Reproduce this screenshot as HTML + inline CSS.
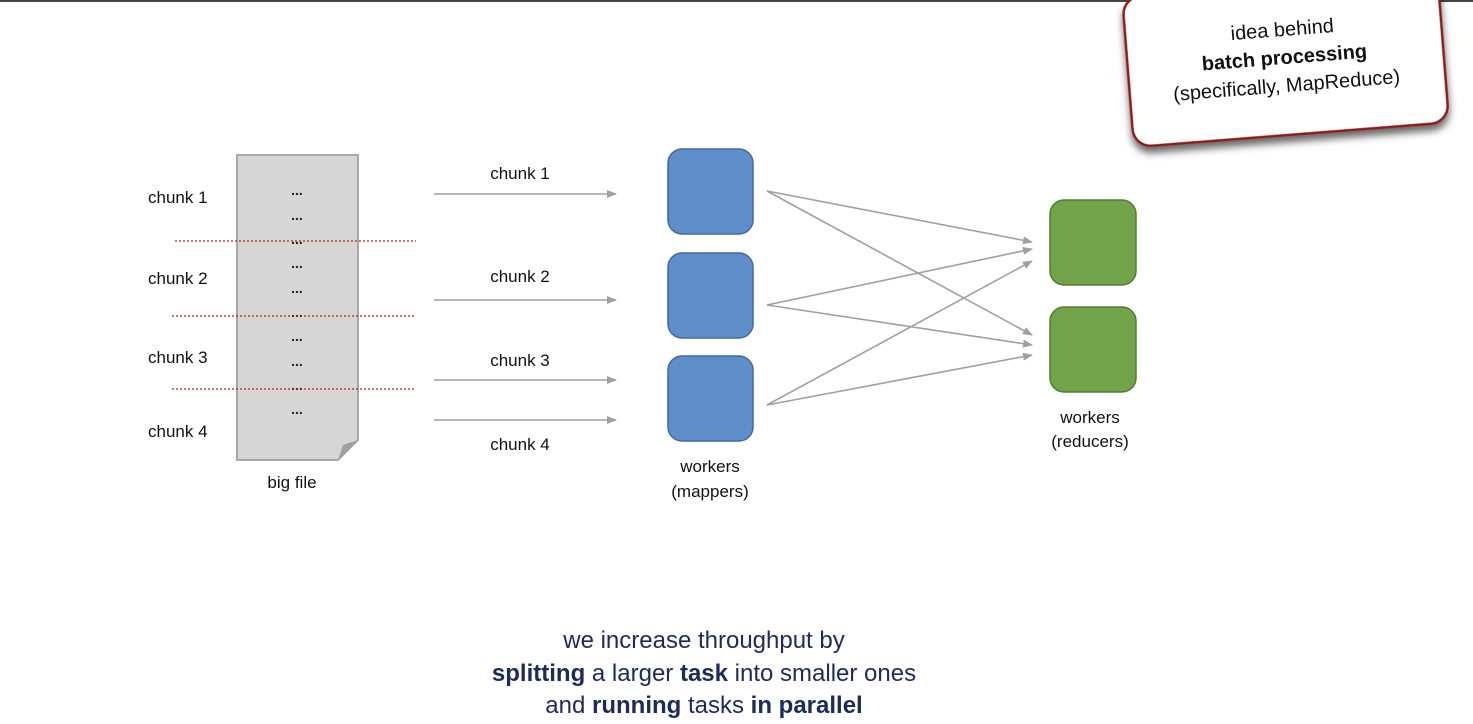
<!DOCTYPE html>
<html><head><meta charset="utf-8"><style>
body{margin:0;width:1473px;height:719px;background:#fff;overflow:hidden;font-family:"Liberation Sans",sans-serif;}
</style></head><body>
<svg width="1473" height="719" viewBox="0 0 1473 719" xmlns="http://www.w3.org/2000/svg" font-family="Liberation Sans, sans-serif">
<defs>
<marker id="a" markerWidth="10" markerHeight="8" refX="9" refY="4" orient="auto" markerUnits="userSpaceOnUse"><path d="M0,0 L10,4 L0,8 z" fill="#a0a0a0"/></marker>
<filter id="sh" x="-20%" y="-20%" width="140%" height="160%"><feDropShadow dx="0" dy="6" stdDeviation="4" flood-color="#000" flood-opacity="0.6"/></filter>
</defs>
<rect x="0" y="0" width="1473" height="2" fill="#444"/>
<g transform="rotate(-4.5 1285 65)">
<rect x="1128" y="-15" width="316" height="150" rx="18" fill="#fff" stroke="#8b1a1a" stroke-width="2.5" filter="url(#sh)"/>
<text x="1285" y="36" text-anchor="middle" font-size="20" fill="#111">idea behind</text>
<text x="1285" y="64" text-anchor="middle" font-size="20" font-weight="bold" fill="#111">batch processing</text>
<text x="1285" y="92" text-anchor="middle" font-size="20" fill="#111">(specifically, MapReduce)</text>
</g>
<path d="M237,155 H358 V440 L338,460 H237 Z" fill="#d6d6d6" stroke="#a8a8a8" stroke-width="2"/>
<path d="M338,460 L343,445 L358,440 Z" fill="#a0a0a0"/>
<g font-size="14" font-weight="bold" fill="#222" text-anchor="middle">
<text x="297" y="195">...</text><text x="297" y="220">...</text><text x="297" y="244">...</text><text x="297" y="268">...</text><text x="297" y="293">...</text><text x="297" y="317">...</text><text x="297" y="341">...</text><text x="297" y="366">...</text><text x="297" y="390">...</text><text x="297" y="414">...</text>
</g>
<g stroke="#b22222" stroke-width="1.2" stroke-dasharray="2,2">
<line x1="175" y1="241" x2="416" y2="241"/><line x1="172" y1="316" x2="414" y2="316"/><line x1="172" y1="389" x2="414" y2="389"/>
</g>
<g font-size="17" fill="#111">
<text x="148" y="203">chunk 1</text><text x="148" y="284">chunk 2</text><text x="148" y="363">chunk 3</text><text x="148" y="437">chunk 4</text>
<text x="292" y="488" text-anchor="middle">big file</text>
</g>
<g stroke="#a0a0a0" stroke-width="1.6" marker-end="url(#a)">
<line x1="434" y1="194" x2="616" y2="194"/><line x1="434" y1="300" x2="616" y2="300"/><line x1="434" y1="380" x2="616" y2="380"/><line x1="434" y1="420" x2="616" y2="420"/>
</g>
<g font-size="17" fill="#111" text-anchor="middle">
<text x="520" y="179">chunk 1</text><text x="520" y="282">chunk 2</text><text x="520" y="366">chunk 3</text><text x="520" y="450">chunk 4</text>
</g>
<g fill="#5f8fcb" stroke="#44689e" stroke-width="1.5">
<rect x="668" y="149" width="85" height="85" rx="14"/><rect x="668" y="253" width="85" height="85" rx="14"/><rect x="668" y="356" width="85" height="85" rx="14"/>
</g>
<g fill="#72a34a" stroke="#557a36" stroke-width="1.5">
<rect x="1050" y="200" width="86" height="85" rx="14"/><rect x="1050" y="307" width="86" height="85" rx="14"/>
</g>
<g stroke="#a0a0a0" stroke-width="1.6" marker-end="url(#a)">
<line x1="767" y1="191" x2="1032" y2="242"/><line x1="767" y1="305" x2="1032" y2="249"/><line x1="767" y1="405" x2="1032" y2="261"/>
<line x1="767" y1="191" x2="1032" y2="335"/><line x1="767" y1="305" x2="1032" y2="345"/><line x1="767" y1="405" x2="1032" y2="355"/>
</g>
<g font-size="17" fill="#111" text-anchor="middle">
<text x="710" y="472">workers</text><text x="710" y="497">(mappers)</text>
<text x="1090" y="423">workers</text><text x="1090" y="447">(reducers)</text>
</g>
<g font-size="24" fill="#1c2a5c" text-anchor="middle">
<text x="704" y="648">we increase throughput by</text>
<text x="704" y="681"><tspan font-weight="bold">splitting</tspan> a larger <tspan font-weight="bold">task</tspan> into smaller ones</text>
<text x="704" y="713">and <tspan font-weight="bold">running</tspan> tasks <tspan font-weight="bold">in parallel</tspan></text>
</g>
</svg>
</body></html>
